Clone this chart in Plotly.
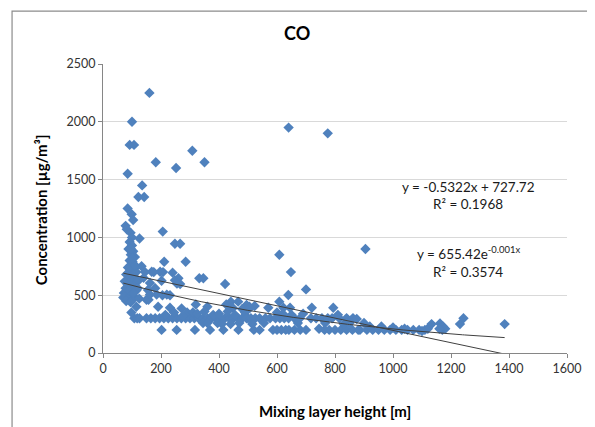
import plotly.graph_objects as go
import numpy as np

# ---- data ----
mixing_height = [
    # tall outliers
    160, 100, 92, 107, 182, 252, 308, 350, 85, 135, 122, 142, 85, 99, 104, 78, 206, 640, 775, 905, 608, 648, 700,
    # dense column 70-130 m
    82, 95, 100, 126, 92, 100, 88, 104, 96, 110, 92, 102, 98, 86, 108, 133, 94, 104, 115, 80, 100, 112, 90, 75,
    100, 120, 85, 105, 78, 95, 115, 72, 88, 100, 70, 85, 110, 125, 80, 95, 115, 108, 118, 126, 98, 88, 110, 96,
    102, 120, 90, 105,
    # 130-300 m
    150, 157, 155, 162, 168, 197, 207, 211, 285, 248, 266, 202, 240, 260, 266, 162, 185, 205, 220, 231, 231, 271,
    140, 180, 150, 165, 180, 195, 210, 225, 240, 255, 270, 285, 300, 202, 254, 317, 190, 248, 255, 175, 145, 290,
    275, 215, 245,
    # 300-500 m
    332, 346, 421, 441, 466, 495, 448, 480, 315, 330, 345, 360, 375, 390, 405, 420, 435, 450, 465, 480, 369, 415,
    467, 345, 360, 310, 325, 380, 400, 430, 455, 470, 500, 395, 440, 410, 360, 320, 350, 490, 425, 505,
    # 500-700 m
    523, 507, 495, 510, 525, 540, 560, 576, 595, 610, 625, 640, 660, 679, 586, 600, 615, 630, 641, 520, 540, 570,
    622, 645, 639, 608, 555, 672, 660, 680, 700, 515, 620, 600, 650,
    # 700-900 m
    720, 794, 717, 735, 755, 766, 775, 790, 815, 840, 862, 875, 850, 764, 780, 800, 820, 840, 860, 880, 900, 745,
    830, 810, 690,
    # 900-1400 m
    886, 910, 930, 950, 970, 990, 1010, 1030, 1050, 1070, 1090, 1110, 1120, 920, 960, 1000, 1040, 1133, 1162, 1170,
    1172, 1180, 1160, 1231, 1243, 1385, 1100,
]
co_conc = [
    # tall outliers
    2250, 2000, 1800, 1800, 1650, 1600, 1750, 1650, 1550, 1450, 1350, 1350, 1250, 1200, 1150, 1100, 1050, 1950, 1900, 900, 850, 700, 550,
    # dense column 70-130 m
    1070, 1040, 1000, 990, 960, 930, 900, 880, 850, 830, 800, 790, 760, 740, 730, 750, 710, 690, 700, 680, 660, 650, 640, 620,
    615, 620, 590, 580, 560, 560, 540, 520, 510, 500, 480, 470, 480, 470, 450, 440, 400, 300, 300, 300, 350, 600, 760, 900,
    820, 560, 540, 520,
    # 130-300 m
    460, 460, 545, 605, 703, 703, 700, 790, 790, 945, 945, 625, 695, 646, 597, 505, 505, 500, 505, 500, 392, 386,
    650, 560, 300, 300, 300, 300, 300, 300, 300, 300, 300, 300, 300, 200, 200, 200, 400, 630, 600, 700, 700, 350,
    320, 330, 350,
    # 300-500 m
    646, 646, 597, 444, 444, 415, 390, 380, 300, 300, 300, 300, 300, 300, 300, 300, 300, 300, 300, 300, 200, 200,
    200, 260, 260, 350, 340, 330, 340, 360, 330, 260, 300, 260, 250, 250, 400, 420, 360, 350, 420, 400,
    # 500-700 m
    406, 390, 300, 300, 300, 300, 300, 300, 300, 300, 300, 300, 300, 300, 200, 200, 200, 200, 200, 200, 200, 392,
    392, 392, 502, 444, 260, 260, 200, 200, 200, 250, 340, 350, 330,
    # 700-900 m
    392, 392, 300, 300, 300, 260, 300, 300, 300, 302, 302, 294, 260, 200, 200, 200, 200, 200, 200, 200, 260, 210,
    250, 330, 340,
    # 900-1400 m
    200, 200, 200, 200, 200, 200, 200, 200, 200, 200, 200, 200, 210, 230, 230, 220, 210, 250, 256, 200,
    230, 210, 210, 250, 300, 250, 190,
]

# trendline coefficients (as shown / estimated from the picture)
lin_slope, lin_intercept = -0.5322, 727.72
exp_a, exp_b = 655.42, -0.00115

x_ticks = [0, 200, 400, 600, 800, 1000, 1200, 1400, 1600]
y_ticks = [0, 500, 1000, 1500, 2000, 2500]

lin_label = "y = -0.5322x + 727.72"
lin_r2 = "R² = 0.1968"
exp_label = "y = 655.42e<sup>-0.001x</sup>"
exp_r2 = "R² = 0.3574"

FONT = "Lato, 'Open Sans', sans-serif"

xs = np.array(mixing_height, dtype=float)
tx = np.linspace(xs.min(), xs.max(), 200)
lin_y = lin_slope * tx + lin_intercept
exp_y = exp_a * np.exp(exp_b * tx)

fig = go.Figure()
fig.add_trace(go.Scatter(
    x=mixing_height, y=co_conc, mode="markers",
    marker=dict(symbol="diamond", size=8, color="#4F81BD", line=dict(width=0)),
    showlegend=False, hoverinfo="skip"))
fig.add_trace(go.Scatter(x=tx, y=lin_y, mode="lines",
                         line=dict(color="#404040", width=1), showlegend=False, hoverinfo="skip"))
fig.add_trace(go.Scatter(x=tx, y=exp_y, mode="lines",
                         line=dict(color="#404040", width=1), showlegend=False, hoverinfo="skip"))

annos = [
    dict(text="<b>CO</b>", x=0.418, y=1.107, xref="paper", yref="paper", showarrow=False,
         font=dict(size=18, color="#000000", family=FONT), xanchor="center", yanchor="middle"),
    dict(text="<b>Mixing layer height [m]</b>", x=0.5, y=-0.2, xref="paper", yref="paper", showarrow=False,
         font=dict(size=15, color="#000000", family=FONT), xanchor="center", yanchor="middle"),
    dict(text="<b>Concentration [µg/m³]</b>", x=-0.133, y=0.495, xref="paper", yref="paper", showarrow=False,
         textangle=-90, font=dict(size=15, color="#000000", family=FONT), xanchor="center", yanchor="middle"),
    dict(text=lin_label, x=1259, y=1436, xref="x", yref="y", showarrow=False,
         font=dict(size=13.5, color="#1a1a1a", family=FONT), xanchor="center", yanchor="middle"),
    dict(text=lin_r2, x=1259, y=1289, xref="x", yref="y", showarrow=False,
         font=dict(size=13.5, color="#1a1a1a", family=FONT), xanchor="center", yanchor="middle"),
    dict(text=exp_label, x=1259, y=866, xref="x", yref="y", showarrow=False,
         font=dict(size=13.5, color="#1a1a1a", family=FONT), xanchor="center", yanchor="middle"),
    dict(text=exp_r2, x=1259, y=700, xref="x", yref="y", showarrow=False,
         font=dict(size=13.5, color="#1a1a1a", family=FONT), xanchor="center", yanchor="middle"),
]

# the page adds an 8px body margin, so the figure is sized to fit inside the window
fig.update_layout(
    width=587, height=419,
    margin=dict(l=95, r=28, t=56, b=74),
    paper_bgcolor="white", plot_bgcolor="white",
    font=dict(family=FONT, size=12.5, color="#333333"),
    annotations=annos,
    shapes=[dict(type="rect", xref="paper", yref="paper", x0=-0.196, x1=1.052, y0=-0.28, y1=1.183,
                 line=dict(color="#8C8C8C", width=1.2), layer="below")],
    xaxis=dict(range=[0, 1600], tickvals=x_ticks, showgrid=False, zeroline=False,
               showline=True, linecolor="#868686", linewidth=1, ticks="outside", ticklen=4,
               tickcolor="#868686", tickfont=dict(size=12.5, color="#333333", family=FONT)),
    yaxis=dict(range=[0, 2500], tickvals=y_ticks, showgrid=True, gridcolor="#D9D9D9", gridwidth=1,
               zeroline=False, showline=True, linecolor="#868686", linewidth=1, ticks="outside",
               ticklen=4, tickcolor="#868686", tickfont=dict(size=12.5, color="#333333", family=FONT)),
)

fig.write_html("out.html")
